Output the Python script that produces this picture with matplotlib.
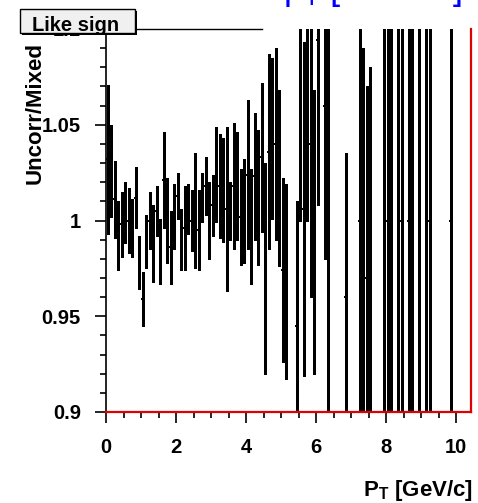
import matplotlib
matplotlib.use("Agg")
import matplotlib.pyplot as plt
from matplotlib.patches import Rectangle
from matplotlib.ticker import MultipleLocator
import numpy as np

plt.rcParams['font.family'] = ['Liberation Sans', 'DejaVu Sans']
plt.rcParams['mathtext.default'] = 'regular'

# histogram binning: 0.1 GeV/c bins
bin_width = 0.1
n_bins = 99

# ratio Uncorr/Mixed per bin (None = empty bin) and its error
ratio = [1.032, 1.026, 1.011, 0.992, 0.998, 1.004, 1.000, 0.996, 1.012, 0.978,
         0.959, 0.989, 1.000, 0.988, 1.005, 0.984, 1.021, 1.000, 0.986, 1.002,
         1.013, 0.990, 0.996, 1.006, 1.000, 1.005, 0.995, 1.012, 1.018, 1.000,
         1.008, 1.024, 1.018, 1.016, 1.006, 1.005, 1.018, 1.018, 1.002, 1.005,
         1.024, 0.997, 1.023, 1.012, 1.033, 0.975, 1.036, 1.043, 1.040, 1.022,
         0.974, 0.968, None, None, 0.945, 1.060, 1.006, 1.080, 1.040, 0.994,
         1.094, None, 1.060, 1.000, None, None, None, None, 0.960, None,
         None, None, 1.000, 0.990, 0.970, 0.980, None, None, None, 1.000,
         1.000, 1.000, None, 1.000, 1.000, None, 1.000, 1.000, None, 0.963,
         None, 1.000, 1.000, None, None, None, None, None, 1.000]
ratio_err = [0.039, 0.024, 0.020, 0.018, 0.017, 0.016, 0.017, 0.015, 0.016, 0.014,
             0.014, 0.014, 0.015, 0.020, 0.013, 0.017, 0.025, 0.022, 0.019, 0.017,
             0.012, 0.016, 0.022, 0.013, 0.016, 0.030, 0.021, 0.013, 0.015, 0.020,
             0.016, 0.025, 0.027, 0.027, 0.043, 0.015, 0.033, 0.028, 0.025, 0.027,
             0.039, 0.030, 0.033, 0.035, 0.039, 0.055, 0.051, 0.042, 0.050, 0.046,
             0.048, 0.051, None, None, 0.065, 0.060, 0.087, 0.080, 0.080, 0.074,
             0.086, None, 0.080, 0.150, None, None, None, None, 0.075, None,
             None, None, 0.200, 0.100, 0.100, 0.100, None, None, None, 0.200,
             0.200, 0.200, None, 0.200, 0.200, None, 0.200, 0.200, None, 0.200,
             None, 0.200, 0.200, None, None, None, None, None, 0.200]

pt = (np.arange(n_bins) + 0.5) * bin_width
y = np.array([np.nan if v is None else v for v in ratio])
ey = np.array([np.nan if v is None else v for v in ratio_err])
ok = ~np.isnan(y)

fig = plt.figure(figsize=(4.78, 5.03), dpi=100)
ax = fig.add_axes([106 / 478, 1 - 412 / 503, 365.5 / 478, 383 / 503])

# vertical error bars and horizontal bin-width lines
ax.vlines(pt[ok], y[ok] - ey[ok], y[ok] + ey[ok], color='black', lw=2.15,
          antialiased=False, zorder=2)
ax.hlines(y[ok], pt[ok] - bin_width / 2, pt[ok] + bin_width / 2, color='black', lw=1.4,
          antialiased=False, zorder=2)

ax.set_xlim(0, 10.44)
ax.set_ylim(0.9, 1.1)

# red line along the bottom and right edge
ax.axhline(0.9, color='#e00000', lw=1.6, zorder=3, clip_on=False)
ax.spines['right'].set_color('#e00000')
ax.spines['right'].set_linewidth(1.6)
ax.spines['top'].set_visible(False)
ax.plot([0, 4.46], [1.1, 1.1], color='black', lw=1.0, clip_on=False, zorder=3)
ax.spines['left'].set_linewidth(1.2)
ax.spines['bottom'].set_linewidth(1.2)

ax.xaxis.set_major_locator(MultipleLocator(2))
ax.xaxis.set_minor_locator(MultipleLocator(0.5))
ax.yaxis.set_minor_locator(MultipleLocator(0.01))
ax.set_yticks([0.9, 0.95, 1.0, 1.05, 1.1])
ax.set_yticklabels(['0.9', '0.95', '1', '1.05', '1.1'])
ax.tick_params(axis='both', which='major', length=8, width=1.2, labelsize=14.5)
ax.tick_params(axis='y', which='major', pad=10)
ax.tick_params(axis='x', which='major', pad=11)
ax.tick_params(axis='both', which='minor', length=4, width=1.2)
for lab in ax.get_xticklabels() + ax.get_yticklabels():
    lab.set_fontweight('bold')

fig.text(473 / 478, 1 - 496 / 503, r'P$_T$ [GeV/c]', ha='right', va='baseline',
         fontsize=16, fontweight='bold')
fig.text(35 / 478, 1 - 184 / 503, 'Uncorr/Mixed', rotation=90, ha='center', va='bottom',
         fontsize=16, fontweight='bold')

# title, mostly cut off at the top
fig.text(283 / 478, 1 + 1 / 503, r'p$_T$ [3.0-4.0]', ha='left', va='baseline',
         fontsize=26, color='blue')

# legend-like label box
fig.patches.append(Rectangle((22 / 478, 1 - 35 / 503), 115 / 478, 24 / 503,
                             transform=fig.transFigure, facecolor='black', zorder=9))
fig.patches.append(Rectangle((20 / 478, 1 - 33 / 503), 115 / 478, 24 / 503,
                             transform=fig.transFigure, facecolor='#f0f0f0',
                             edgecolor='black', lw=1.0, zorder=10))
fig.text(76 / 478, 1 - 31 / 503, 'Like sign', ha='center', va='baseline', fontsize=14.5,
         fontweight='bold', zorder=11)

fig.savefig('out.png', dpi=100)
